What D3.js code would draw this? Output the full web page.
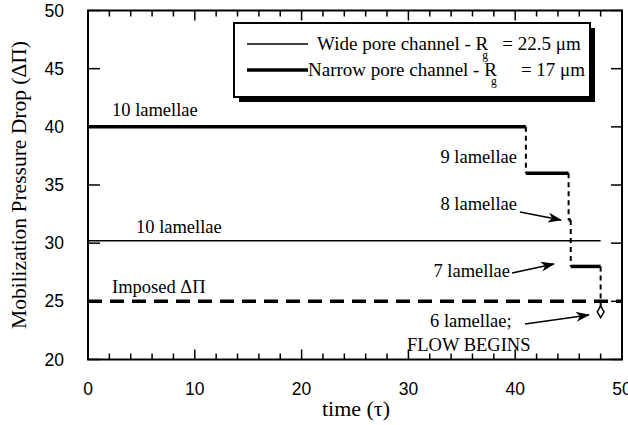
<!DOCTYPE html>
<html>
<head>
<meta charset="utf-8">
<script src="https://cdn.jsdelivr.net/npm/d3@7"></script>
<style>
  body { margin: 0; background: #fff; }
  .serif { font-family: "Liberation Serif", "Times New Roman", serif; }
  .sans { font-family: "Liberation Sans", Arial, sans-serif; }
</style>
</head>
<body>
<div id="chart"></div>
<script>
// Data
var xTicks = [0, 10, 20, 30, 40, 50];
var yTicks = [20, 25, 30, 35, 40, 45, 50];

// wide pore channel (thin line)
var wideT = [0, 48];
var wideP = [30.2, 30.2];

// narrow pore channel steps (thick line)
var stepStart = [0, 41, 45, 45.2];
var stepEnd = [41, 45, 45.2, 48];
var stepP = [40, 36, 32, 28];

// point where flow begins
var flowT = 48;
var flowP = 24.1;

var imposedP = 25;

var W = 628, H = 425;
var margin = {top: 10.5, right: 6, bottom: 65.5, left: 88};
var width = W - margin.left - margin.right,
    height = H - margin.top - margin.bottom;

var svg = d3.select("#chart").append("svg")
    .attr("width", W)
    .attr("height", H);

var g = svg.append("g")
    .attr("transform", "translate(" + margin.left + "," + margin.top + ")");

var x = d3.scaleLinear().domain([0, 50]).range([0, width]);
var y = d3.scaleLinear().domain([20, 50]).range([height, 0]);

// arrow marker
svg.append("defs").append("marker")
    .attr("id", "arrow")
    .attr("viewBox", "0 0 14 10")
    .attr("refX", 13).attr("refY", 5)
    .attr("markerWidth", 14).attr("markerHeight", 10)
    .attr("markerUnits", "userSpaceOnUse")
    .attr("orient", "auto")
    .append("path")
    .attr("d", "M0,0 L14,5 L0,10 L4,5 Z")
    .attr("fill", "#000");

// frame
g.append("rect")
    .attr("width", width).attr("height", height)
    .attr("fill", "none").attr("stroke", "#000").attr("stroke-width", 2);

// ticks on all four sides, pointing inward
var xMinor = d3.range(0, 51, 2);
g.selectAll(".xtb").data(xMinor).enter().append("line")
    .attr("x1", function(d) { return x(d); }).attr("x2", function(d) { return x(d); })
    .attr("y1", height).attr("y2", function(d) { return height - (d % 10 === 0 ? 10 : 6); })
    .attr("stroke", "#000").attr("stroke-width", 1.5);
g.selectAll(".xtt").data(xMinor).enter().append("line")
    .attr("x1", function(d) { return x(d); }).attr("x2", function(d) { return x(d); })
    .attr("y1", 0).attr("y2", function(d) { return d % 10 === 0 ? 10 : 6; })
    .attr("stroke", "#000").attr("stroke-width", 1.5);
g.selectAll(".ytl").data(yTicks).enter().append("line")
    .attr("x1", 0).attr("x2", 12)
    .attr("y1", function(d) { return y(d); }).attr("y2", function(d) { return y(d); })
    .attr("stroke", "#000").attr("stroke-width", 1.5);
g.selectAll(".ytr").data(yTicks).enter().append("line")
    .attr("x1", width).attr("x2", width - 11)
    .attr("y1", function(d) { return y(d); }).attr("y2", function(d) { return y(d); })
    .attr("stroke", "#000").attr("stroke-width", 1.5);

// tick labels
g.selectAll(".xl").data(xTicks).enter().append("text")
    .attr("class", "sans")
    .attr("x", function(d) { return x(d); })
    .attr("y", height + 35)
    .attr("text-anchor", "middle")
    .attr("font-size", 17.5)
    .text(function(d) { return d; });
g.selectAll(".yl").data(yTicks).enter().append("text")
    .attr("class", "sans")
    .attr("x", -24)
    .attr("y", function(d) { return y(d) + 6; })
    .attr("text-anchor", "end")
    .attr("font-size", 17.5)
    .text(function(d) { return d; });

// axis titles
svg.append("text")
    .attr("class", "serif")
    .attr("x", 356)
    .attr("y", 416)
    .attr("text-anchor", "middle")
    .attr("font-size", 22)
    .text("time (τ)");
svg.append("text")
    .attr("class", "serif")
    .attr("transform", "translate(26," + (margin.top + height / 2) + ") rotate(-90)")
    .attr("text-anchor", "middle")
    .attr("font-size", 21.5)
    .text("Mobilization Pressure Drop (ΔΠ)");

// imposed pressure drop
g.append("line")
    .attr("x1", x(0)).attr("x2", x(50))
    .attr("y1", y(imposedP)).attr("y2", y(imposedP))
    .attr("stroke", "#000").attr("stroke-width", 3.5)
    .attr("stroke-dasharray", "14,8");

// wide pore channel
g.append("line")
    .attr("x1", x(wideT[0])).attr("x2", x(wideT[1]))
    .attr("y1", y(wideP[0])).attr("y2", y(wideP[1]))
    .attr("stroke", "#000").attr("stroke-width", 1.5);

// narrow pore channel: dashed risers between steps
var risers = stepP.map(function(p, i) {
    var next = i < stepP.length - 1 ? stepP[i + 1] : flowP;
    var nextT = i < stepP.length - 1 ? stepStart[i + 1] : flowT;
    return {t: nextT, p0: p, p1: next};
});
g.selectAll(".riser").data(risers).enter().append("line")
    .attr("x1", function(d) { return x(d.t); }).attr("x2", function(d) { return x(d.t); })
    .attr("y1", function(d) { return y(d.p0); })
    .attr("y2", function(d, i) { return i === risers.length - 1 ? y(d.p1) - 4 : y(d.p1); })
    .attr("stroke", "#000").attr("stroke-width", 2)
    .attr("stroke-dasharray", "5,4");

g.selectAll(".step").data(stepP).enter().append("line")
    .attr("x1", function(d, i) { return x(stepStart[i]); })
    .attr("x2", function(d, i) { return x(stepEnd[i]); })
    .attr("y1", function(d) { return y(d); })
    .attr("y2", function(d) { return y(d); })
    .attr("stroke", "#000").attr("stroke-width", 3.5);

// diamond where flow begins
g.append("path")
    .attr("d", d3.symbol().type(d3.symbolDiamond).size(40))
    .attr("transform", "translate(" + x(flowT) + "," + y(flowP) + ")")
    .attr("fill", "#fff").attr("stroke", "#000").attr("stroke-width", 1.5);

// annotations
function label(tx, ty, s, anchor) {
    return svg.append("text").attr("class", "serif")
        .attr("x", tx).attr("y", ty)
        .attr("text-anchor", anchor || "start")
        .attr("font-size", 18.5).text(s);
}
function arrow(x1, y1, x2, y2) {
    svg.append("line")
        .attr("x1", x1).attr("y1", y1).attr("x2", x2).attr("y2", y2)
        .attr("stroke", "#000").attr("stroke-width", 1.5)
        .attr("marker-end", "url(#arrow)");
}
label(112, 116, "10 lamellae");
label(136, 233, "10 lamellae");
label(112, 293, "Imposed ΔΠ");
label(517, 163, "9 lamellae", "end");
label(517, 210, "8 lamellae", "end");
arrow(520, 212, 561, 220);
label(510, 277, "7 lamellae", "end");
label(430, 327, "6 lamellae;");
label(407, 351, "FLOW BEGINS");
arrow(512, 273, 554, 264);
arrow(525, 324, 589, 315);

// legend
var lg = svg.append("g");
lg.append("rect")
    .attr("x", 239).attr("y", 28).attr("width", 356).attr("height", 74)
    .attr("fill", "#000");
lg.append("rect")
    .attr("x", 234).attr("y", 23).attr("width", 356).attr("height", 74)
    .attr("fill", "#fff").attr("stroke", "#000").attr("stroke-width", 2);

var legendLabels = ["Wide pore channel - R", "Narrow pore channel - R"];
var legendValues = ["= 22.5  μm", "= 17  μm"];
var legendGap = [14, 24];
var legendWidths = [1.5, 3.5];
legendLabels.forEach(function(s, i) {
    var ly = 44 + i * 26;
    var lx = i === 0 ? 317 : 308;
    lg.append("line")
        .attr("x1", 247).attr("x2", 308).attr("y1", ly).attr("y2", ly)
        .attr("stroke", "#000").attr("stroke-width", legendWidths[i]);
    var t = lg.append("text").attr("class", "serif")
        .attr("x", lx).attr("y", ly + 6).attr("font-size", 19).text(s);
    var end = lx + t.node().getComputedTextLength();
    lg.append("text").attr("class", "serif")
        .attr("x", end - 6).attr("y", ly + 15).attr("font-size", 11.5).text("g");
    lg.append("text").attr("class", "serif")
        .attr("x", end + legendGap[i]).attr("y", ly + 6).attr("font-size", 19)
        .text(legendValues[i]);
});
</script>
</body>
</html>
